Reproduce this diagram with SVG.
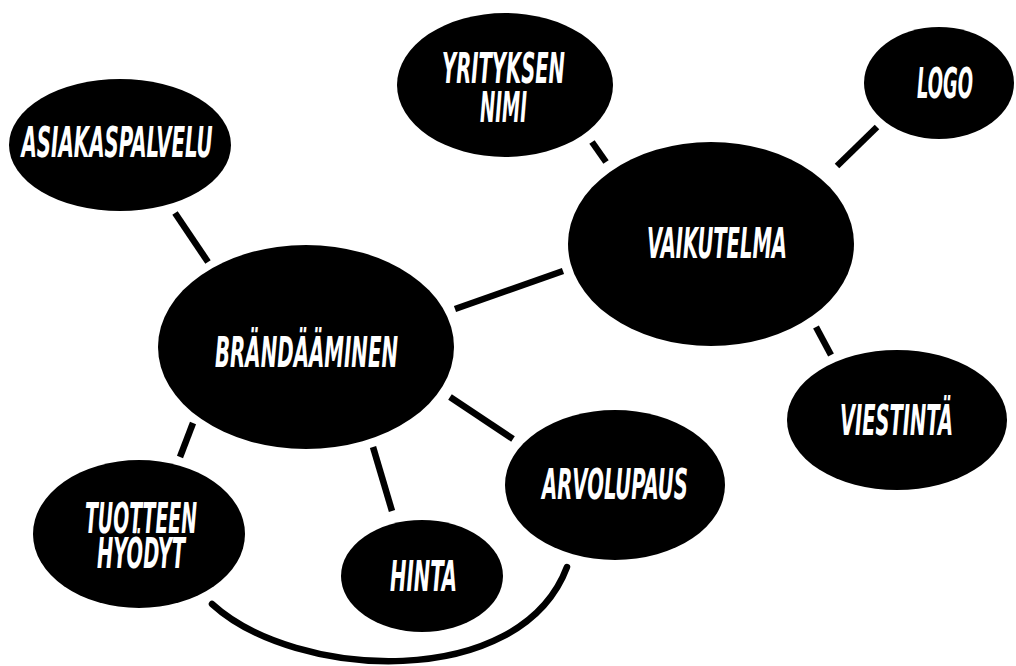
<svg xmlns="http://www.w3.org/2000/svg" width="1016" height="666" viewBox="0 0 1016 666">
<style>
.n{fill:#000}
.t{fill:#fff;font-family:"DejaVu Sans","Liberation Sans",sans-serif;font-weight:bold;font-style:italic;font-stretch:condensed;font-size:42px;text-anchor:middle}
.c line,.c path{stroke:#000;stroke-width:6.5;fill:none}
.c path{stroke-linecap:round}
</style>
<rect width="1016" height="666" fill="#fff"/>
<g class="c" id="connectors">
<line x1="175" y1="213" x2="208" y2="262"/>
<line x1="455" y1="309" x2="563" y2="271"/>
<line x1="592" y1="142" x2="606" y2="162"/>
<line x1="837" y1="166" x2="877" y2="127"/>
<line x1="816" y1="327" x2="831" y2="355"/>
<line x1="193" y1="423" x2="180" y2="457"/>
<line x1="373" y1="447" x2="392" y2="511"/>
<line x1="450" y1="397" x2="513" y2="439"/>
<path d="M212,604 C295,680 520,692 567,567"/>
</g>
<g id="asiakaspalvelu"><ellipse class="n" cx="120" cy="145" rx="111" ry="66"/><text class="t" x="117" y="157" textLength="191" lengthAdjust="spacingAndGlyphs">ASIAKASPALVELU</text></g>
<g id="yrityksen"><ellipse class="n" cx="505" cy="85" rx="108" ry="72"/><text class="t" x="503.5" y="83" textLength="123" lengthAdjust="spacingAndGlyphs">YRITYKSEN</text><text class="t" x="503.5" y="122" textLength="47" lengthAdjust="spacingAndGlyphs">NIMI</text></g>
<g id="logo"><ellipse class="n" cx="939" cy="83" rx="75" ry="56"/><text class="t" x="945" y="98" textLength="56" lengthAdjust="spacingAndGlyphs">LOGO</text></g>
<g id="vaikutelma"><ellipse class="n" cx="711" cy="244" rx="143" ry="102"/><text class="t" x="717" y="258" textLength="140" lengthAdjust="spacingAndGlyphs">VAIKUTELMA</text></g>
<g id="brandaaminen"><ellipse class="n" cx="306" cy="347" rx="148" ry="102"/><text class="t" x="306.5" y="367" textLength="183" lengthAdjust="spacingAndGlyphs">BRÄNDÄÄMINEN</text></g>
<g id="viestinta"><ellipse class="n" cx="897" cy="420" rx="110" ry="70"/><text class="t" x="896.5" y="435" textLength="113" lengthAdjust="spacingAndGlyphs">VIESTINTÄ</text></g>
<g id="arvolupaus"><ellipse class="n" cx="615" cy="485" rx="110" ry="75"/><text class="t" x="615" y="499" textLength="146" lengthAdjust="spacingAndGlyphs">ARVOLUPAUS</text></g>
<g id="tuotteen"><ellipse class="n" cx="139" cy="534" rx="106" ry="74"/><text class="t" x="141" y="533" textLength="112" lengthAdjust="spacingAndGlyphs">TUOTTEEN</text><text class="t" x="141" y="568" textLength="88" lengthAdjust="spacingAndGlyphs">HYÖDYT</text></g>
<g id="hinta"><ellipse class="n" cx="422" cy="576" rx="81" ry="56"/><text class="t" x="423.5" y="591" textLength="67" lengthAdjust="spacingAndGlyphs">HINTA</text></g>
</svg>
